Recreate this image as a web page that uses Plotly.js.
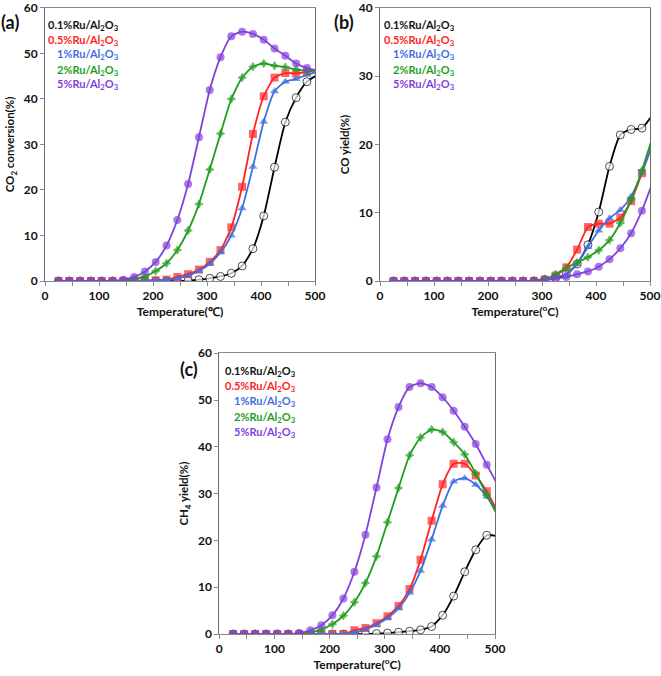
<!DOCTYPE html>
<html>
<head>
<meta charset="utf-8">
<script src="https://cdn.plot.ly/plotly-3.0.1.min.js"></script>
<style>body{margin:0;padding:0;background:#fff;} #chart{width:661px;height:676px;}</style>
</head>
<body>
<div id="chart"></div>
<script>
// Temperatures (°C) of the measured points
const temperature = [25,45,65,85,105,125,145,165,185,205,225,245,265,285,305,325,345,365,385,405,425,445,465,485,505];

const seriesNames = ['0.1%Ru/Al<sub>2</sub>O<sub>3</sub>','0.5%Ru/Al<sub>2</sub>O<sub>3</sub>','1%Ru/Al<sub>2</sub>O<sub>3</sub>','2%Ru/Al<sub>2</sub>O<sub>3</sub>','5%Ru/Al<sub>2</sub>O<sub>3</sub>'];

// (a) CO2 conversion (%)
const co2_ru01 = [0,0,0,0,0,0,0,0,0,0,0,0,0.1,0.3,0.6,1.0,1.7,3.3,7.1,14.3,25.0,34.9,40.3,43.8,45.3];
const co2_ru05 = [0,0,0,0,0,0,0,0,0.1,0.15,0.3,0.9,1.5,2.5,4.2,6.8,11.8,20.7,32.3,40.6,44.7,45.7,45.6,46.0,46.3];
const co2_ru1  = [0,0,0,0,0,0,0,0,0.1,0.15,0.3,0.6,1.2,2.2,3.8,6.3,10.0,16.0,25.1,35.0,41.7,43.8,44.4,45.3,46.0];
const co2_ru2  = [0,0,0,0,0,0,0.1,0.4,1.0,2.2,3.9,6.8,11.1,16.9,24.5,32.4,40.0,44.7,47.1,47.8,47.3,47.0,46.5,46.2,46.2];
const co2_ru5  = [0,0,0,0,0,0,0.3,0.9,2.1,4.2,7.8,13.4,21.3,31.6,42.0,49.2,53.8,54.8,54.3,53.0,51.1,49.5,47.8,46.8,46.3];

// (b) CO yield (%)
const co_ru01 = [0,0,0,0,0,0,0,0,0,0,0,0,0,0,0.2,0.5,1.0,2.5,5.3,10.1,16.8,21.4,22.2,22.4,24.4];
const co_ru05 = [0,0,0,0,0,0,0,0,0,0,0,0,0,0,0.2,0.8,2.0,4.6,7.9,8.4,8.4,9.3,11.7,15.8,20.2];
const co_ru1  = [0,0,0,0,0,0,0,0,0,0,0,0,0,0,0.2,0.6,1.0,2.5,5.0,7.4,9.2,10.4,12.4,15.9,20.2];
const co_ru2  = [0,0,0,0,0,0,0,0,0,0,0,0,0,0.1,0.3,1.0,1.9,2.7,3.5,4.5,6.0,8.5,11.9,16.2,21.2];
const co_ru5  = [0,0,0,0,0,0,0,0,0,0,0,0,0,0,0.1,0.3,0.6,1.0,1.4,2.1,3.2,4.8,7.0,10.3,14.5];

// (c) CH4 yield (%)
const ch4_ru01 = [0,0,0,0,0,0,0,0,0,0,0,0,0,0.1,0.2,0.4,0.6,0.9,1.6,4.0,8.1,13.3,18.0,21.1,20.9];
const ch4_ru05 = [0,0,0,0,0,0,0,0,0,0,0,0.8,1.3,2.3,3.8,6.0,9.6,15.9,24.2,32.0,36.4,36.4,33.9,30.5,26.0];
const ch4_ru1  = [0,0,0,0,0,0,0,0,0,0,0,0.3,1.0,2.0,3.4,5.5,8.8,13.5,20.2,27.4,32.6,33.3,31.9,29.4,25.8];
const ch4_ru2  = [0,0,0,0,0,0,0.1,0.3,1.0,2.1,3.9,6.8,10.9,16.6,23.9,31.2,38.2,42.0,43.7,43.2,41.0,38.4,34.3,29.7,25.2];
const ch4_ru5  = [0,0,0,0,0,0,0.2,0.8,1.9,4.0,7.6,13.3,21.2,31.3,41.6,48.5,52.8,53.6,52.8,50.6,47.7,44.3,40.6,36.2,31.8];

const panelLabels = ['(a)','(b)','(c)'];
const yTitles = ['CO<sub>2</sub> conversion(%)','CO yield(%)','CH<sub>4</sub> yield(%)'];
const xTitles = ['Temperature(℃)','Temperature(<sup>o</sup>C)','Temperature(<sup>o</sup>C)'];

const colors = ['#000000','#ff2323','#3f6ee0','#1f9e1f','#8142dc'];
const symbols = ['circle','square','triangle-up','star-diamond','circle'];
const fills = ['#ffffff','#ff2323','#3f6ee0','#1f9e1f','#8142dc'];
const msizes = [8,8,8,6,8];

const panels = [
  {data:[co2_ru01,co2_ru05,co2_ru1,co2_ru2,co2_ru5], xa:'x', ya:'y'},
  {data:[co_ru01,co_ru05,co_ru1,co_ru2,co_ru5], xa:'x2', ya:'y2'},
  {data:[ch4_ru01,ch4_ru05,ch4_ru1,ch4_ru2,ch4_ru5], xa:'x3', ya:'y3'}
];

const sizeFor = (base) => temperature.map(t => t > 500 ? 0 : base);

const traces = [];
panels.forEach(p => {
  p.data.forEach((ys, i) => {
    traces.push({
      x: temperature, y: ys, xaxis: p.xa, yaxis: p.ya,
      type: 'scatter', mode: 'lines+markers',
      line: {color: colors[i], width: 1.8, shape: 'spline', smoothing: 0.6},
      marker: {symbol: symbols[i], size: sizeFor(msizes[i]), color: fills[i],
               line: {color: colors[i], width: i === 0 ? 1 : (i === 3 ? 1 : 0)}},
      showlegend: false, hoverinfo: 'skip'
    });
  });
});

const FONT = 'Lato, "Open Sans", Arial, sans-serif';
const tickFont = {family: FONT, size: 12, color: '#111', weight: 'bold'};

function xAxis(domain, anchor, title) {
  return {domain: domain, anchor: anchor, range: [0, 500], dtick: 100, tick0: 0,
    showgrid: false, zeroline: false, showline: true, linecolor: '#8a8a8a', linewidth: 1, mirror: true,
    ticks: 'outside', ticklen: 4, tickcolor: '#8a8a8a', ticklabeloverflow: 'allow',
    minor: {dtick: 50, ticks: 'outside', ticklen: 4, tickcolor: '#8a8a8a', showgrid: false},
    tickfont: tickFont,
    title: {text: title, font: {family: FONT, size: 12, color: '#111', weight: 'bold'}, standoff: 5}};
}
function yAxis(domain, anchor, rng, title) {
  return {domain: domain, anchor: anchor, range: rng, dtick: 10, tick0: 0,
    showgrid: false, zeroline: false, showline: true, linecolor: '#6a6a6a', linewidth: 1, mirror: true,
    ticks: 'outside', ticklen: 4, tickcolor: '#8a8a8a', ticklabeloverflow: 'allow',
    tickfont: tickFont,
    title: {text: title, font: {family: FONT, size: 11.5, color: '#111', weight: 'bold'}, standoff: 6}};
}

const layout = {
  width: 661, height: 676,
  margin: {l: 0, r: 0, t: 0, b: 0},
  paper_bgcolor: '#fff', plot_bgcolor: '#fff',
  font: {family: FONT},
  xaxis: xAxis([0.0681, 0.4766], 'y', xTitles[0]),
  yaxis: yAxis([0.5843, 0.9882], 'x', [0, 60], yTitles[0]),
  xaxis2: xAxis([0.5749, 0.9834], 'y2', xTitles[1]),
  yaxis2: yAxis([0.5843, 0.9882], 'x2', [0, 40], yTitles[1]),
  xaxis3: xAxis([0.3318, 0.7489], 'y3', xTitles[2]),
  yaxis3: yAxis([0.0621, 0.4774], 'x3', [0, 60], yTitles[2]),
  annotations: [],
  showlegend: false
};

// Panel labels
const labelPos = [{x: 10, y: 22}, {x: 344, y: 22}, {x: 189, y: 369}];
panelLabels.forEach((t, k) => {
  layout.annotations.push({text: '<b>' + t + '</b>', xref: 'paper', yref: 'paper',
    x: labelPos[k].x / 661, y: 1 - labelPos[k].y / 676, xanchor: 'center', yanchor: 'middle',
    showarrow: false, font: {family: FONT, size: 18, color: '#111'}});
});

// In-plot series labels
const legendRight = [0.28, 0.285, 0.285];
const legendTops = [0.935, 0.88, 0.828, 0.772, 0.718];
const legendRefs = [['x domain','y domain'],['x2 domain','y2 domain'],['x3 domain','y3 domain']];
legendRefs.forEach((r, k) => {
  seriesNames.forEach((n, i) => {
    layout.annotations.push({text: '<b>' + n + '</b>', xref: r[0], yref: r[1],
      x: legendRight[k], y: legendTops[i], xanchor: 'right', yanchor: 'middle',
      showarrow: false, font: {family: FONT, size: 11, color: colors[i] === '#000000' ? '#111' : colors[i]}});
  });
});

Plotly.newPlot('chart', traces, layout, {staticPlot: true, displayModeBar: false});
</script>
</body>
</html>
